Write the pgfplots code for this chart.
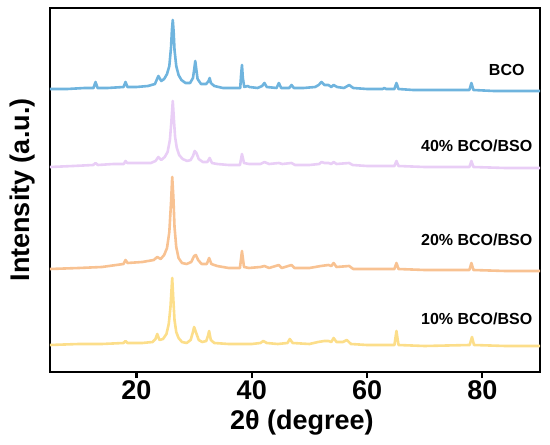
\documentclass[border=0pt]{standalone}
\usepackage{pgfplots}
\pgfplotsset{compat=1.18}
\usepackage{fontspec}
\setmainfont{Liberation Sans}
\definecolor{cBCO}{HTML}{6FB4DE}
\definecolor{cForty}{HTML}{E9CEF6}
\definecolor{cTwenty}{HTML}{F8C292}
\definecolor{cTen}{HTML}{FCDE8A}
\begin{document}
\begin{tikzpicture}
\useasboundingbox (-50bp,-73bp) rectangle (500bp,372bp);
\begin{axis}[
  width=490bp, height=364bp, scale only axis,
  xmin=5, xmax=90, ymin=0, ymax=364,
  xtick={20,40,60,80}, ytick=\empty,
  xtick pos=bottom, tick align=outside,
  major tick length=6bp,
  major tick style={line width=2.2bp, black},
  axis line style={line width=2.6bp, black},
  /pgf/number format/assume math mode=true,
  xticklabel style={font=\bfseries\fontsize{27bp}{29bp}\selectfont, yshift=1bp},
  xlabel={2θ (degree)},
  ylabel={Intensity (a.u.)},
  xlabel style={font=\bfseries\fontsize{27bp}{29bp}\selectfont, at={(axis description cs:0.514,-0.14)}, anchor=center},
  ylabel style={font=\bfseries\fontsize{27bp}{29bp}\selectfont, at={(axis description cs:-0.057,0.5)}, anchor=center},
  every axis plot/.append style={line width=2.6bp, line join=round, line cap=round},
]
% BCO
\addplot[cBCO] coordinates {
(5,283)(8,283)(11,284)(12.55,284)(12.9,290)(13.25,284)(15,284)(17.75,285)(18.1,290)(18.45,285)
(20,285)(22,286)(23.2,288)(23.8,296)(24.3,291)(24.8,293)(25.3,298)(25.7,306)(26.0,325)(26.15,342)
(26.3,352)(26.45,340)(26.6,322)(26.9,306)(27.3,297)(27.8,292)(28.5,289)(29.3,289)(29.8,294)(30.05,304)
(30.2,311)(30.35,304)(30.6,293)(31.2,288)(32.1,288)(32.5,291)(32.7,294)(32.9,289)(33.5,286)(35,284)
(37,284)(38.0,284)(38.15,297)(38.3,307)(38.45,294)(38.7,285)(39.3,286)(39.6,285)(41,284)(41.8,286)
(42.2,289)(42.6,285)(44.3,284)(44.7,289)(45.1,284)(46.5,284)(46.9,287)(47.3,284)(49,284)(51,285)
(51.6,287)(52.1,290)(52.6,287)(53.0,287)(53.3,287)(53.8,285)(54.2,287)(54.8,285)(56,284)(56.9,287)
(57.6,284)(60,283)(62.7,283)(63,284)(63.3,283)(64.75,283)(65.1,289)(65.45,283)(68,282)(72,282)
(77.75,282)(78.1,289)(78.45,282)(82,281)(86,281)(90,281)
};
% 40%
\addplot[cForty] coordinates {
(5,205)(9,206)(12.5,207)(12.9,209)(13.3,207)(16,208)(17.8,208)(18.1,211)(18.4,209)(20,209)
(22.5,209)(23.3,211)(23.8,215)(24.3,212)(24.9,215)(25.4,220)(25.8,232)(26.05,250)(26.3,271)(26.5,252)
(26.7,235)(27.0,224)(27.4,217)(28,213)(28.8,211)(29.4,212)(29.8,216)(30.1,221)(30.4,219)(30.8,213)
(31.5,210)(32.3,210)(32.7,214)(33.1,209)(34,208)(36,207)(37.95,207)(38.3,218)(38.65,209)(39.5,208)
(41.5,208)(42.2,210)(43,208)(44.7,209)(45.3,208)(46.9,209)(47.5,207)(50,207)(51.7,208)(52.1,210)
(52.6,209)(53.3,209)(53.8,208)(54.2,210)(54.7,208)(56.9,209)(57.5,207)(60,206)(64.75,206)(65.1,211)
(65.45,206)(70,205)(77.75,205)(78.1,211)(78.45,205)(84,204)(90,204)
};
% 20%
\addplot[cTwenty] coordinates {
(5,103)(10,104)(14,105)(17.75,108)(18.1,112)(18.45,109)(21,110)(23.0,112)(23.6,115)(24.2,113)
(24.8,117)(25.3,124)(25.7,140)(26.0,170)(26.2,195)(26.4,175)(26.6,145)(26.9,125)(27.3,114)(27.9,109)
(28.7,108)(29.5,110)(30.0,116)(30.3,117)(30.7,112)(31.3,108)(32.2,108)(32.6,114)(33.0,108)(34,106)
(36,104)(37.95,104)(38.3,121)(38.65,105)(39.5,104)(41.5,105)(42.2,106)(43,104)(44.7,107)(45.2,104)
(46.9,107)(47.4,104)(50,104)(52,106)(53.3,107)(53.8,106)(54.2,109)(54.7,105)(56.9,106)(57.6,103)
(62,103)(64.75,103)(65.1,109)(65.45,103)(70,102)(77.75,102)(78.1,109)(78.45,102)(84,101)(90,101)
};
% 10%
\addplot[cTen] coordinates {
(5,27)(10,28)(14,28)(17.75,29)(18.1,31)(18.45,29)(21,29)(22.8,30)(23.3,33)(23.6,38)
(24.0,32)(24.6,33)(25.2,38)(25.6,48)(25.9,65)(26.2,94)(26.4,72)(26.6,52)(26.9,40)(27.3,34)
(27.9,30)(28.7,29)(29.4,32)(29.8,40)(30.0,45)(30.3,40)(30.8,32)(31.4,30)(32.1,31)(32.4,36)
(32.6,41)(32.9,32)(33.5,29)(36,28)(40,28)(41.5,29)(42.0,31)(42.6,29)(44.5,28)(46.2,29)
(46.6,33)(47.1,29)(50,28)(51.5,30)(52.6,31)(53.3,31)(53.8,30)(54.2,34)(54.7,30)(55.8,30)
(56.5,32)(57.2,28)(60,27)(64.75,27)(65.1,41)(65.45,27)(70,26)(77.8,27)(78.2,35)(78.55,27)
(84,26)(90,26)
};
\node[anchor=east, font=\bfseries\fontsize{16bp}{18bp}\selectfont, inner sep=0pt] at (axis cs:87.35,302) {BCO};
\node[anchor=east, font=\bfseries\fontsize{16bp}{18bp}\selectfont, inner sep=0pt] at (axis cs:88.7,226) {40\% BCO/BSO};
\node[anchor=east, font=\bfseries\fontsize{16bp}{18bp}\selectfont, inner sep=0pt] at (axis cs:88.7,132) {20\% BCO/BSO};
\node[anchor=east, font=\bfseries\fontsize{16bp}{18bp}\selectfont, inner sep=0pt] at (axis cs:88.7,53) {10\% BCO/BSO};
\end{axis}
\end{tikzpicture}
\end{document}
